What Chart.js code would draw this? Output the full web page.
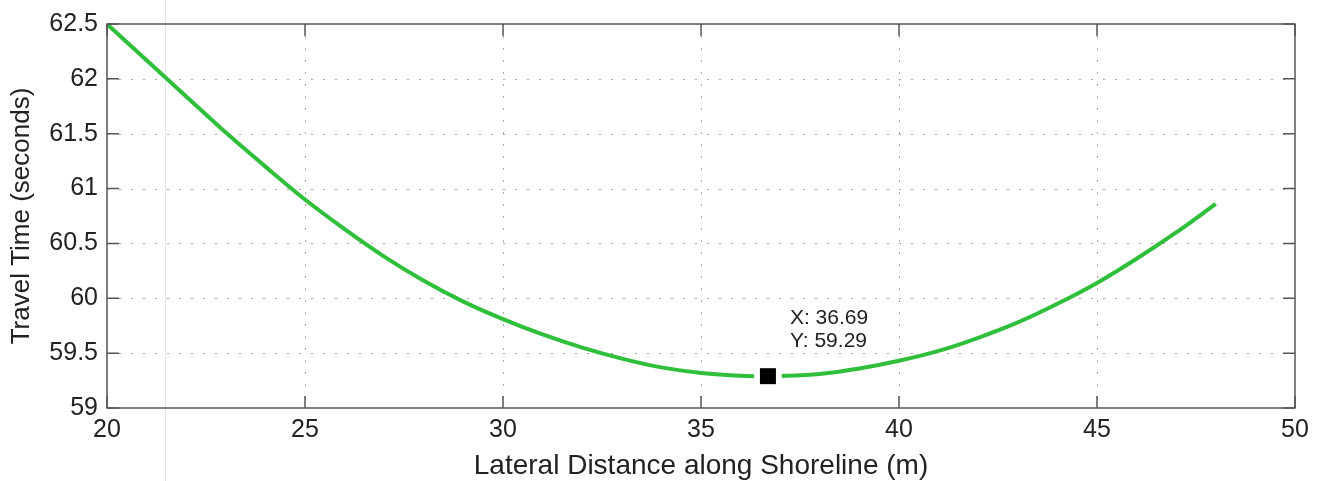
<!DOCTYPE html>
<html lang="en">
<head>
  <meta charset="UTF-8">
  <title>Travel Time vs Lateral Distance</title>
  <script src="https://cdn.jsdelivr.net/npm/chart.js"></script>
  <style>
    html, body {
      margin: 0;
      padding: 0;
      background: #ffffff;
    }
    #wrap {
      width: 1326px;
      height: 481px;
    }
  </style>
</head>
<body>

  <div id="wrap">
    <canvas id="grafico" width="1326" height="481"></canvas>
  </div>

  <script>
    // lateral distance (m) and travel time (s)
    const distancia = [20, 21, 22, 23, 24, 25, 26, 27, 28, 29, 30, 31, 32, 33, 34, 35, 36, 36.69, 37, 38, 39, 40, 41, 42, 43, 44, 45, 46, 47, 48];
    const tempo = [62.50, 62.17, 61.84, 61.51, 61.20, 60.90, 60.63, 60.38, 60.16, 59.97, 59.81, 59.67, 59.55, 59.45, 59.37, 59.32, 59.295, 59.29, 59.292, 59.31, 59.36, 59.43, 59.52, 59.64, 59.78, 59.95, 60.14, 60.36, 60.60, 60.86];

    // data tip (minimum)
    const marcadorX = [36.69];
    const marcadorY = [59.29];

    const xTicks = [20, 25, 30, 35, 40, 45, 50];
    const yTicks = [59, 59.5, 60, 60.5, 61, 61.5, 62, 62.5];

    const pontos = distancia.map((x, i) => ({ x: x, y: tempo[i] }));
    const pontoMin = marcadorX.map((x, i) => ({ x: x, y: marcadorY[i] }));

    const corEixo = '#555555';
    const corTexto = '#222222';
    const fonte = '"Liberation Sans", Arial, sans-serif';

    // grid pontilhado, caixa e ticks internos estilo MATLAB
    const estiloMatlab = {
      id: 'estiloMatlab',
      beforeDraw(chart) {
        const ctx = chart.ctx;
        // faint vertical scan line from the original picture
        ctx.save();
        ctx.strokeStyle = 'rgba(0,0,0,0.10)';
        ctx.lineWidth = 1;
        ctx.beginPath();
        ctx.moveTo(165.5, 0);
        ctx.lineTo(165.5, chart.height);
        ctx.stroke();
        ctx.restore();
      },
      beforeDatasetsDraw(chart) {
        const { ctx, chartArea: a, scales } = chart;
        ctx.save();
        ctx.strokeStyle = '#a8a8a8';
        ctx.lineWidth = 1;
        ctx.setLineDash([2, 10]);
        xTicks.forEach(v => {
          const px = Math.round(scales.x.getPixelForValue(v)) + 0.5;
          if (px <= a.left + 1 || px >= a.right - 1) return;
          ctx.beginPath();
          ctx.moveTo(px, a.top);
          ctx.lineTo(px, a.bottom);
          ctx.stroke();
        });
        yTicks.forEach(v => {
          const py = Math.round(scales.y.getPixelForValue(v)) + 0.5;
          if (py <= a.top + 1 || py >= a.bottom - 1) return;
          ctx.beginPath();
          ctx.moveTo(a.left, py);
          ctx.lineTo(a.right, py);
          ctx.stroke();
        });
        ctx.restore();
      },
      afterDatasetsDraw(chart) {
        const { ctx, chartArea: a, scales } = chart;
        const tl = 12;
        ctx.save();
        ctx.setLineDash([]);
        ctx.strokeStyle = corEixo;
        ctx.lineWidth = 1.5;
        ctx.strokeRect(a.left, a.top, a.right - a.left, a.bottom - a.top);
        ctx.beginPath();
        xTicks.forEach(v => {
          const px = scales.x.getPixelForValue(v);
          ctx.moveTo(px, a.bottom);
          ctx.lineTo(px, a.bottom - tl);
          ctx.moveTo(px, a.top);
          ctx.lineTo(px, a.top + tl);
        });
        yTicks.forEach(v => {
          const py = scales.y.getPixelForValue(v);
          ctx.moveTo(a.left, py);
          ctx.lineTo(a.left + tl, py);
          ctx.moveTo(a.right, py);
          ctx.lineTo(a.right - tl, py);
        });
        ctx.stroke();

        // data tip text
        const mx = scales.x.getPixelForValue(marcadorX[0]);
        const my = scales.y.getPixelForValue(marcadorY[0]);
        ctx.fillStyle = corTexto;
        ctx.font = '21px ' + fonte;
        ctx.textAlign = 'left';
        ctx.textBaseline = 'middle';
        ctx.fillText('X: ' + marcadorX[0].toFixed(2), mx + 22, my - 58);
        ctx.fillText('Y: ' + marcadorY[0].toFixed(2), mx + 22, my - 35);
        ctx.restore();
      }
    };

    const ctx = document.getElementById('grafico').getContext('2d');
    const chart = new Chart(ctx, {
      type: 'scatter',
      data: {
        datasets: [
          {
            label: 'mínimo',
            data: pontoMin,
            pointStyle: 'rect',
            pointRadius: 11.3,
            backgroundColor: '#000000',
            borderColor: '#000000',
            borderWidth: 0,
            showLine: false,
            order: 0
          },
          {
            label: 'folga',
            data: pontoMin,
            pointStyle: 'rect',
            pointRadius: 19.5,
            backgroundColor: '#ffffff',
            borderColor: '#ffffff',
            borderWidth: 0,
            showLine: false,
            order: 1
          },
          {
            label: 'Travel Time',
            data: pontos,
            showLine: true,
            borderColor: '#2fbf3b',
            borderWidth: 4,
            pointRadius: 0,
            cubicInterpolationMode: 'monotone',
            fill: false,
            order: 2
          }
        ]
      },
      options: {
        responsive: false,
        animation: false,
        layout: {
          padding: { top: 21, right: 31, bottom: 0, left: 0 }
        },
        plugins: {
          legend: { display: false },
          tooltip: { enabled: false },
          title: { display: false }
        },
        scales: {
          x: {
            type: 'linear',
            min: 20,
            max: 50,
            afterFit(scale) { scale.height = 73; },
            afterBuildTicks(scale) { scale.ticks = xTicks.map(v => ({ value: v })); },
            grid: { display: false, drawTicks: false },
            border: { display: false },
            ticks: {
              padding: 7,
              color: corTexto,
              font: { family: fonte, size: 25 },
              maxRotation: 0,
              callback: v => String(v)
            },
            title: {
              display: true,
              text: 'Lateral Distance along Shoreline (m)',
              color: corTexto,
              font: { family: fonte, size: 28, lineHeight: 1 },
              padding: { top: 0, bottom: 1 }
            }
          },
          y: {
            type: 'linear',
            min: 59,
            max: 62.5,
            afterFit(scale) { scale.width = 107; },
            afterBuildTicks(scale) { scale.ticks = yTicks.map(v => ({ value: v })); },
            grid: { display: false, drawTicks: false },
            border: { display: false },
            ticks: {
              padding: 9,
              color: corTexto,
              font: { family: fonte, size: 25 },
              callback: v => String(v)
            },
            title: {
              display: true,
              text: 'Travel Time (seconds)',
              color: corTexto,
              font: { family: fonte, size: 26 },
              padding: { top: 6, bottom: 0 }
            }
          }
        }
      },
      plugins: [estiloMatlab]
    });
  </script>

</body>
</html>
